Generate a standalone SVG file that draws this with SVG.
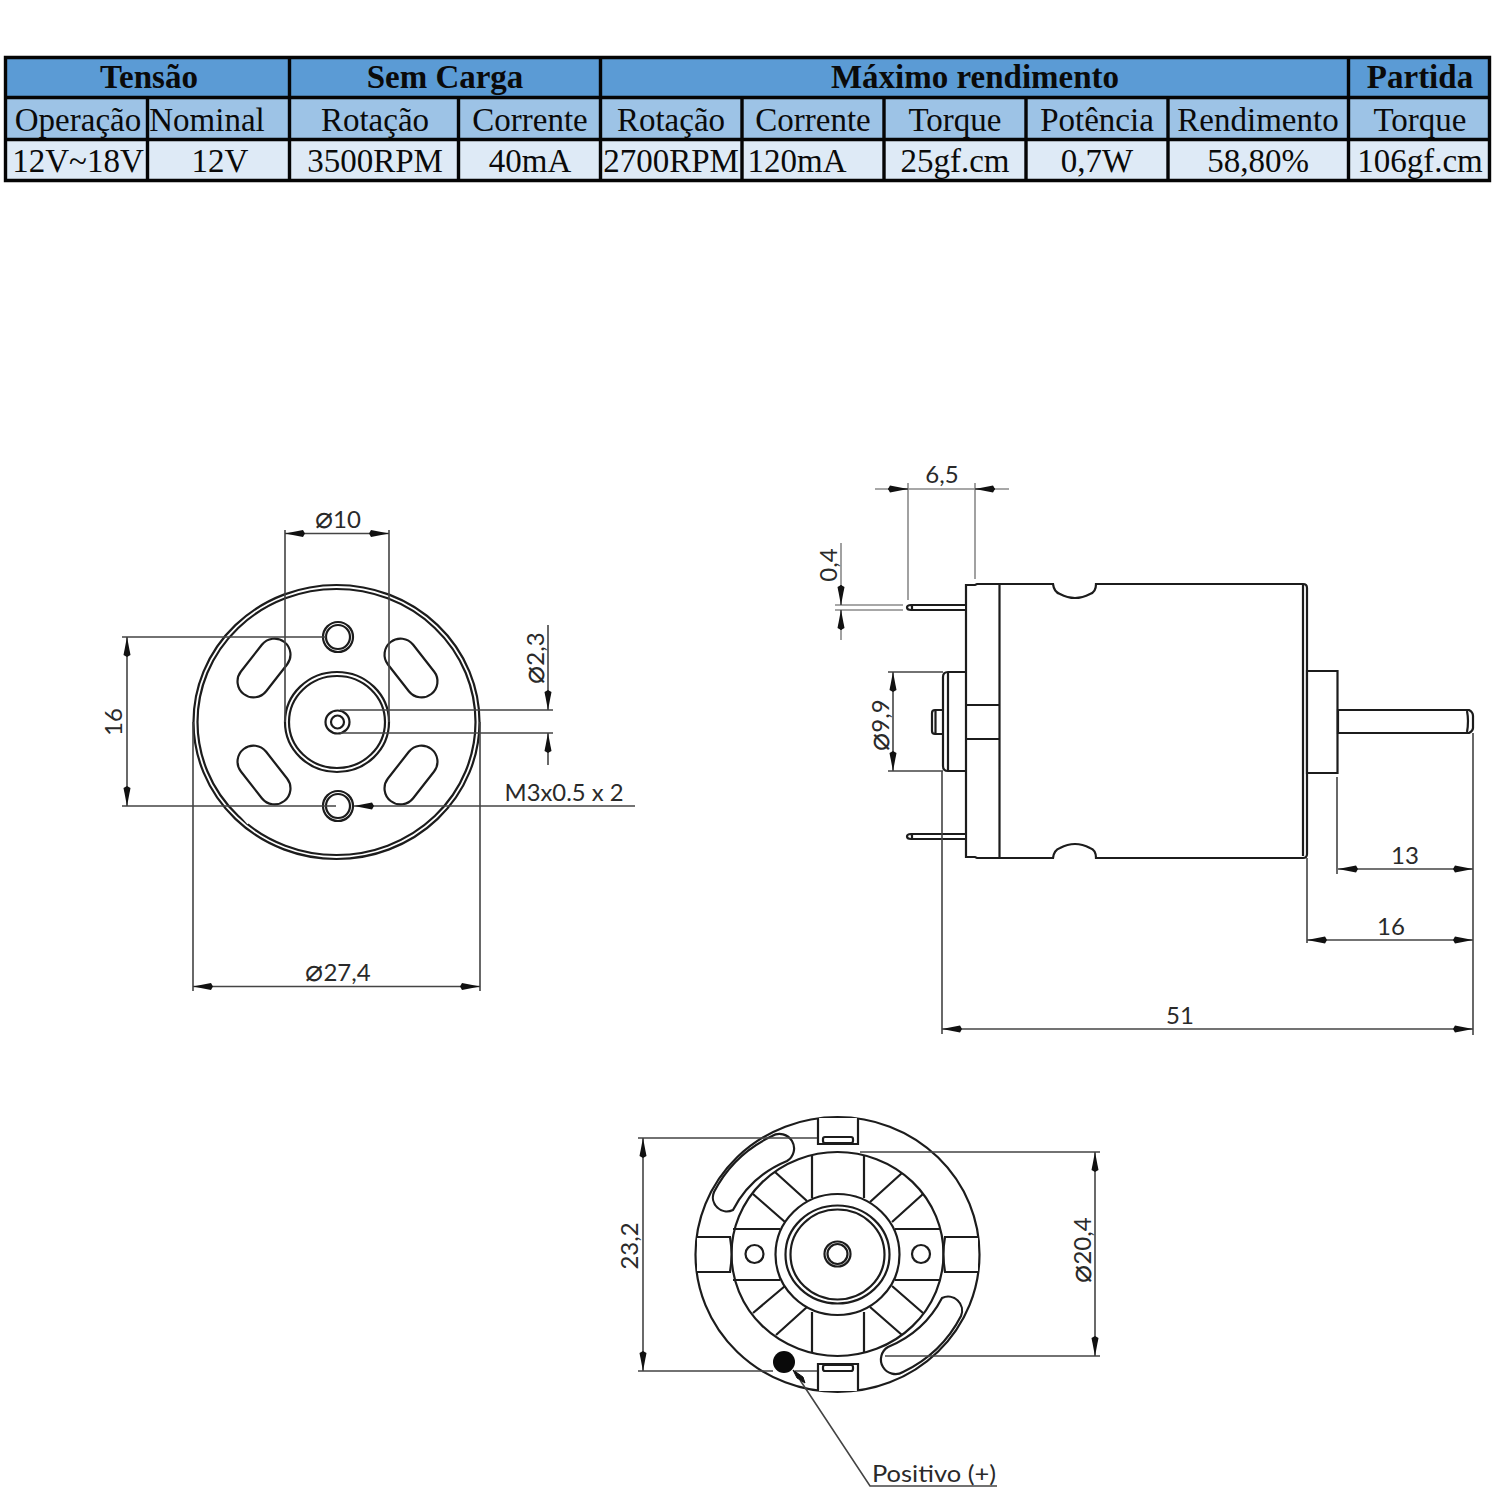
<svg xmlns="http://www.w3.org/2000/svg" width="1500" height="1500" viewBox="0 0 1500 1500">
<style>
.h{fill:#5b9bd5}.s{fill:#9dc3e6}.v{fill:#deeaf6}
.g{stroke:#050505;stroke-width:3.4;fill:none}
.th,.td{font-family:"Liberation Serif","Times New Roman",serif;text-anchor:middle;fill:#0a0a0a}
.th{font-size:33px;font-weight:bold}.td{font-size:33px}
.o{fill:none;stroke:#1c1c1c;stroke-width:2.200}
.f{fill:#fff;stroke:#1c1c1c;stroke-width:2.200}
.d{fill:none;stroke:#444;stroke-width:1.600}
.e{fill:none;stroke:#8a8a8a;stroke-width:1.600}
.a{marker-end:url(#ar)}.b{marker-start:url(#ar);marker-end:url(#ar)}
.t{font-family:"Lato","Open Sans",sans-serif;font-size:24px;fill:#2a2a2a;text-anchor:middle}
.p{font-family:"DejaVu Sans",sans-serif;font-size:30px;font-weight:200}
</style>
<defs>
<marker id="ar" markerUnits="userSpaceOnUse" markerWidth="20" markerHeight="8" viewBox="0 0 20 8" refX="20" refY="4" orient="auto-start-reverse"><path d="M20 4L2 .5L0 4L2 7.500Z" fill="#111"/></marker>
</defs>
<rect width="1500" height="1500" fill="#fff"/>
<g id="table">
<rect class="h" x="4" y="56" width="1487" height="41"/>
<rect class="s" x="4" y="97" width="1487" height="42"/>
<rect class="v" x="4" y="139" width="1487" height="43"/>
<path class="g" d="M5.500 57.500H1489.500V180.500H5.500ZM5.500 97.500H1489.500M5.500 139.500H1489.500M289.500 57.500V180.500M600.500 57.500V180.500M1348.500 57.500V180.500M147.500 97.500V180.500M458.500 97.500V180.500M742 97.500V180.500M884 97.500V180.500M1026 97.500V180.500M1168 97.500V180.500"/>
<text class="th" x="149" y="88">Tensão</text>
<text class="th" x="445" y="88">Sem Carga</text>
<text class="th" x="975" y="88">Máximo rendimento</text>
<text class="th" x="1420" y="88">Partida</text>
<text class="td" x="78" y="131">Operação</text>
<text class="td" x="207" y="131">Nominal</text>
<text class="td" x="375" y="131">Rotação</text>
<text class="td" x="530" y="131">Corrente</text>
<text class="td" x="671" y="131">Rotação</text>
<text class="td" x="813" y="131">Corrente</text>
<text class="td" x="955" y="131">Torque</text>
<text class="td" x="1097" y="131">Potência</text>
<text class="td" x="1258" y="131">Rendimento</text>
<text class="td" x="1420" y="131">Torque</text>
<text class="td" x="78" y="172">12V~18V</text>
<text class="td" x="220" y="172">12V</text>
<text class="td" x="375" y="172">3500RPM</text>
<text class="td" x="530" y="172">40mA</text>
<text class="td" x="671" y="172">2700RPM</text>
<text class="td" x="797" y="172">120mA</text>
<text class="td" x="955" y="172">25gf.cm</text>
<text class="td" x="1097" y="172">0,7W</text>
<text class="td" x="1258" y="172">58,80%</text>
<text class="td" x="1420" y="172">106gf.cm</text>
</g>
<g id="front-view">
<ellipse class="o" cx="336.500" cy="722" rx="143" ry="137"/>
<ellipse class="o" cx="336.500" cy="722" rx="139" ry="133"/>
<path d="M243 816L249 823" stroke="#fff" stroke-width="4"/>
<ellipse class="o" cx="337" cy="722" rx="52" ry="50"/>
<ellipse class="o" cx="337" cy="722" rx="48" ry="46"/>
<ellipse class="o" cx="337.500" cy="722" rx="12" ry="11.500"/>
<ellipse class="o" cx="337.500" cy="722" rx="6.500" ry="6.500"/>
<ellipse class="o" cx="338" cy="637" rx="15" ry="15"/>
<ellipse class="o" cx="338" cy="637" rx="12" ry="12"/>
<ellipse class="o" cx="338" cy="806" rx="15" ry="15"/>
<ellipse class="o" cx="338" cy="806" rx="12" ry="12"/>
<rect class="o" x="231" y="652" width="66" height="32" rx="16" transform="rotate(-52 264 668)"/>
<rect class="o" x="378" y="652" width="66" height="32" rx="16" transform="rotate(52 411 668)"/>
<rect class="o" x="231" y="759" width="66" height="32" rx="16" transform="rotate(52 264 775)"/>
<rect class="o" x="378" y="759" width="66" height="32" rx="16" transform="rotate(-52 411 775)"/>
</g>
<g id="side-view">
<path class="o" d="M966 585H975L977 584H1053Q1054 592 1060 594Q1075 602 1090 594Q1096 592 1096 584H1303Q1307 584 1307 588V854Q1307 858 1303 858H1096Q1096 850 1090 848Q1075 840 1060 848Q1054 850 1053 858H977L975 857H966Z"/>
<path class="o" d="M999.500 585V857M966 705H999.500M966 739H999.500M1303 585V856M966 672H948Q943 672 943 677V766Q943 771 948 771H966M948 672V771"/>
<path class="o" d="M943 710H935Q932 710 932 713V731Q932 734 935 734H943M935.500 711V733"/>
<path class="f" d="M965 605H911Q907 605 907 607.500Q907 610 911 610H965M912 605V610M965 834H911Q907 834 907 836.500Q907 839 911 839H965M912 834V839"/>
<path class="f" d="M1307 671H1337.500V773H1307Z"/>
<path class="f" d="M1338 710H1469Q1473 712 1473 716V728Q1473 731 1469 733H1338Z"/>
<path class="o" d="M1467 711Q1469 721 1467 732"/>
</g>
<g id="rear-view">
<ellipse class="o" cx="837.500" cy="1254.500" rx="142" ry="137.500"/>
<ellipse class="o" cx="837.500" cy="1254" rx="106" ry="102"/>
<path class="f" d="M772 1136A14 14 0 0 1 787 1161A108 104 0 0 0 733 1210A14 14 0 0 1 714 1192A128 124 0 0 1 772 1136Z"/>
<path class="f" transform="rotate(180 837.500 1254)" d="M772 1136A14 14 0 0 1 787 1161A108 104 0 0 0 733 1210A14 14 0 0 1 714 1192A128 124 0 0 1 772 1136Z"/>
<path class="o" d="M812 1155V1198M864 1155V1198M812 1312V1353M864 1312V1353M733 1229H780M733 1280H780M895 1229H940M895 1280H940M775 1172L807 1201M753 1194L785 1222M902 1173L870 1202M923 1194L892 1222M753 1313L785 1286M776 1335L807 1307M892 1286L923 1313M870 1307L902 1335"/>
<ellipse class="f" cx="837.500" cy="1254.500" rx="62" ry="60.500"/>
<ellipse class="o" cx="837.500" cy="1254.500" rx="52" ry="49"/>
<ellipse class="o" cx="837.500" cy="1254.500" rx="47" ry="45"/>
<ellipse class="o" cx="837.500" cy="1254" rx="13" ry="12.500"/>
<ellipse class="o" cx="837.500" cy="1254" rx="10" ry="10"/>
<ellipse class="o" cx="754.500" cy="1254" rx="9" ry="9"/>
<ellipse class="o" cx="921" cy="1254" rx="9" ry="9"/>
<path class="f" d="M818 1118V1144H858V1118"/>
<rect class="o" x="823" y="1137" width="30" height="6" rx="2"/>
<path class="f" d="M818 1391V1364H858V1391"/>
<rect class="o" x="823" y="1365" width="30" height="6" rx="2"/>
<path class="f" d="M697 1237H730Q733 1254 730 1272H697"/>
<path class="f" d="M978 1237H945Q942 1254 945 1272H978"/>
<circle cx="784" cy="1362" r="11" fill="#0a0a0a"/>
</g>
<g id="connectors">
<path class="d" d="M285 530V722M389 530V722"/>
<path class="d b" d="M285 533.500H389"/>
<path class="d" d="M122 637H326M122 806H336"/>
<path class="d b" d="M127 637V806"/>
<path class="d" d="M340 710H553M340 733H553"/>
<path class="d a" d="M548 625V710"/>
<path class="d a" d="M548 765V733"/>
<path class="d a" d="M635 806H354"/>
<path class="d" d="M193 722V991M480 722V991"/>
<path class="d b" d="M193 986.500H480"/>
<path class="e" d="M875 489H1009M908 483V600M975 483V579M835 605H903M835 610H903M841 543V588M841 627V640"/>
<path class="d a" d="M888 489H908"/>
<path class="d a" d="M995 489H975"/>
<path class="d a" d="M841 585V605"/>
<path class="d a" d="M841 630V610"/>
<path class="d" d="M888 672H943M888 771H943"/>
<path class="d b" d="M893 672V771"/>
<path class="d" d="M942 771V1034M1337 777V874M1473 733V1035M1307 858V943"/>
<path class="d b" d="M1338 869H1473"/>
<path class="d b" d="M1307 940H1473"/>
<path class="d b" d="M942 1029H1473"/>
<path class="d" d="M638 1138H817M638 1371H773M795 1371H817M860 1152H1100M885 1356H1100"/>
<path class="d b" d="M643 1138V1371"/>
<path class="d b" d="M1095 1152V1356"/>
<path class="d" d="M997 1486H870L800 1380"/>
<path d="M793 1370L803 1377L805 1383L797 1378Z" fill="#111" stroke="#111"/>
</g>
<g id="labels">
<text class="t" x="338" y="528"><tspan class="p">⌀</tspan>10</text>
<text class="t" x="113" y="722" transform="rotate(-90 113 722)" dy="9">16</text>
<text class="t" x="535" y="658" transform="rotate(-90 535 658)" dy="9"><tspan class="p">⌀</tspan>2,3</text>
<text class="t" x="564" y="801" textLength="119" lengthAdjust="spacingAndGlyphs">M3x0.5 x 2</text>
<text class="t" x="338" y="981"><tspan class="p">⌀</tspan>27,4</text>
<text class="t" x="942" y="483">6,5</text>
<text class="t" x="828" y="565" transform="rotate(-90 828 565)" dy="9">0,4</text>
<text class="t" x="880" y="725" transform="rotate(-90 880 725)" dy="9"><tspan class="p">⌀</tspan>9,9</text>
<text class="t" x="1405" y="864">13</text>
<text class="t" x="1391" y="935">16</text>
<text class="t" x="1180" y="1024">51</text>
<text class="t" x="629" y="1246" transform="rotate(-90 629 1246)" dy="9">23,2</text>
<text class="t" x="1082" y="1250" transform="rotate(-90 1082 1250)" dy="9"><tspan class="p">⌀</tspan>20,4</text>
<text class="t" x="934" y="1482" textLength="124" lengthAdjust="spacingAndGlyphs">Positivo (+)</text>
</g>
</svg>
